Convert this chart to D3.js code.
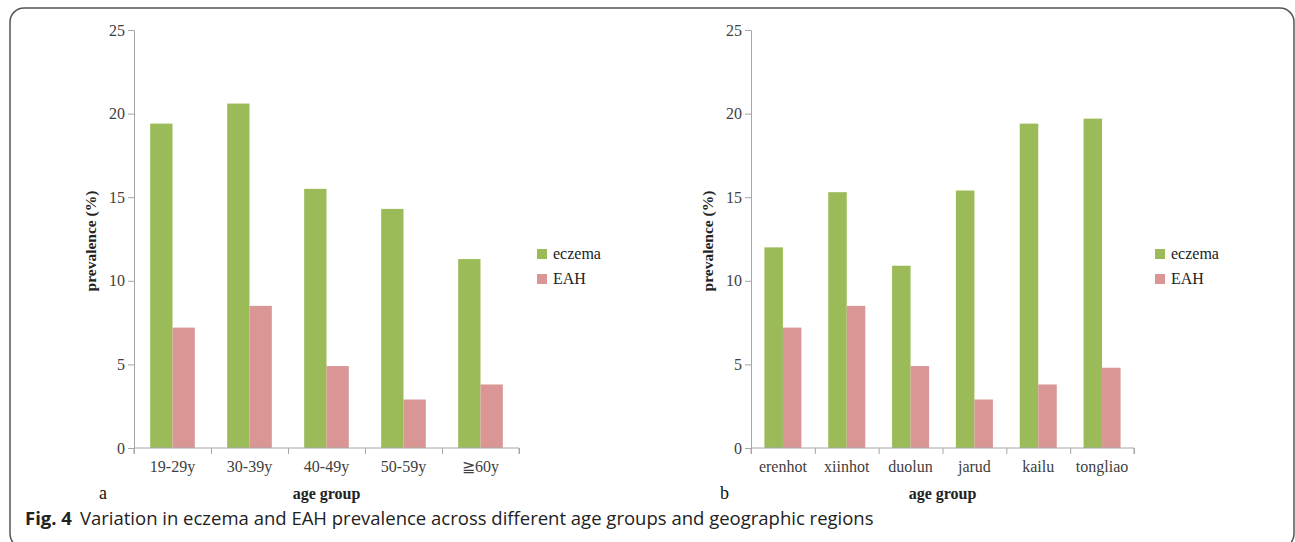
<!DOCTYPE html>
<html>
<head>
<meta charset="utf-8">
<script src="https://cdn.jsdelivr.net/npm/d3@7"></script>
<style>
  body { margin: 0; background: #fff; }
  svg { display: block; }
</style>
</head>
<body>
<script>
const ageGroups = ["19-29y", "30-39y", "40-49y", "50-59y", "≧60y"];
const ageEczema = [19.4, 20.6, 15.5, 14.3, 11.3];
const ageEAH = [7.2, 8.5, 4.9, 2.9, 3.8];

const regions = ["erenhot", "xiinhot", "duolun", "jarud", "kailu", "tongliao"];
const regionEczema = [12.0, 15.3, 10.9, 15.4, 19.4, 19.7];
const regionEAH = [7.2, 8.5, 4.9, 2.9, 3.8, 4.8];

const seriesNames = ["eczema", "EAH"];
const yTicks = [0, 5, 10, 15, 20, 25];

const colors = { eczema: "#9bbb59", EAH: "#d99694" };
const serif = "'Liberation Serif', 'DejaVu Serif', serif";

const svg = d3.select("body").append("svg").attr("width", 1295).attr("height", 542);

// figure frame
svg.append("rect")
  .attr("x", 10).attr("y", 8).attr("width", 1284).attr("height", 540)
  .attr("rx", 14)
  .attr("fill", "none").attr("stroke", "#555").attr("stroke-width", 1.5);

const panel = (opts) => {
  const { cats, eczema, eah, x0, x1, letter, letterX, legendX } = opts;
  const top = 30, bottom = 448;
  const g = svg.append("g");

  const y = d3.scaleLinear().domain([0, 25]).range([bottom, top]);
  const x = d3.scaleBand().domain(cats).range([x0, x1]);
  const inner = d3.scaleBand().domain(seriesNames).range([0, x.bandwidth() * 0.58]);
  const offset = x.bandwidth() * 0.21;

  const rows = cats.map((c, i) => ({ cat: c, eczema: eczema[i], EAH: eah[i] }));

  g.append("g")
    .selectAll("g")
    .data(rows)
    .join("g")
    .attr("transform", (d) => `translate(${x(d.cat) + offset},0)`)
    .selectAll("rect")
    .data((d) => seriesNames.map((k) => ({ key: k, value: d[k] })))
    .join("rect")
    .attr("x", (d) => inner(d.key))
    .attr("width", inner.bandwidth())
    .attr("y", (d) => y(d.value))
    .attr("height", (d) => y(0) - y(d.value))
    .attr("fill", (d) => colors[d.key]);

  // y axis
  const yAxis = g.append("g")
    .attr("transform", `translate(${x0},0)`)
    .call(d3.axisLeft(y).tickValues(yTicks).tickSize(6).tickPadding(3));
  yAxis.selectAll("path, line").attr("stroke", "#a6a6a6");
  yAxis.selectAll("text").attr("font-family", serif).attr("font-size", 16).attr("fill", "#404040");

  // x axis: ticks on band edges, labels at centres
  const edges = d3.scaleLinear().domain([0, cats.length]).range([x0, x1]);
  const xAxis = g.append("g")
    .attr("transform", `translate(0,${bottom})`)
    .call(d3.axisBottom(edges).ticks(cats.length).tickSize(6).tickFormat(""));
  xAxis.selectAll("path, line").attr("stroke", "#a6a6a6");
  xAxis.select("path").attr("d", `M${x0},6V0H${x1}V6`);

  g.append("g")
    .selectAll("text")
    .data(cats)
    .join("text")
    .attr("x", (d) => x(d) + x.bandwidth() / 2)
    .attr("y", bottom + 24)
    .attr("text-anchor", "middle")
    .attr("font-family", serif).attr("font-size", 16).attr("fill", "#404040")
    .text((d) => d);

  // axis titles
  g.append("text")
    .attr("transform", `translate(${x0 - 38},${(top + bottom) / 2 + 2}) rotate(-90)`)
    .attr("text-anchor", "middle")
    .attr("font-family", serif).attr("font-size", 15.5).attr("font-weight", "bold").attr("fill", "#222")
    .text("prevalence (%)");

  g.append("text")
    .attr("x", (x0 + x1) / 2 + 0)
    .attr("y", 499)
    .attr("text-anchor", "middle")
    .attr("font-family", serif).attr("font-size", 16).attr("font-weight", "bold").attr("fill", "#222")
    .text("age group");

  g.append("text")
    .attr("x", letterX).attr("y", 499)
    .attr("font-family", serif).attr("font-size", 18).attr("fill", "#111")
    .text(letter);

  // legend
  const lg = g.append("g")
    .selectAll("g")
    .data(seriesNames)
    .join("g")
    .attr("transform", (d, i) => `translate(${legendX},${249 + i * 25})`);
  lg.append("rect").attr("width", 10).attr("height", 10).attr("fill", (d) => colors[d]);
  lg.append("text")
    .attr("x", 16).attr("y", 10)
    .attr("font-family", serif).attr("font-size", 16).attr("fill", "#222")
    .text((d) => d);
};

panel({ cats: ageGroups, eczema: ageEczema, eah: ageEAH, x0: 134, x1: 519, letter: "a", letterX: 99, legendX: 537 });
panel({ cats: regions, eczema: regionEczema, eah: regionEAH, x0: 751, x1: 1134, letter: "b", letterX: 720, legendX: 1155 });

// caption
const cap = svg.append("text")
  .attr("x", 25).attr("y", 525)
  .attr("font-family", "'Open Sans', 'Noto Sans', sans-serif").attr("font-size", 18.5).attr("fill", "#222");
cap.append("tspan").attr("font-weight", "bold").text("Fig. 4");
cap.append("tspan").attr("dx", 8).text("Variation in eczema and EAH prevalence across different age groups and geographic regions");
</script>
</body>
</html>
